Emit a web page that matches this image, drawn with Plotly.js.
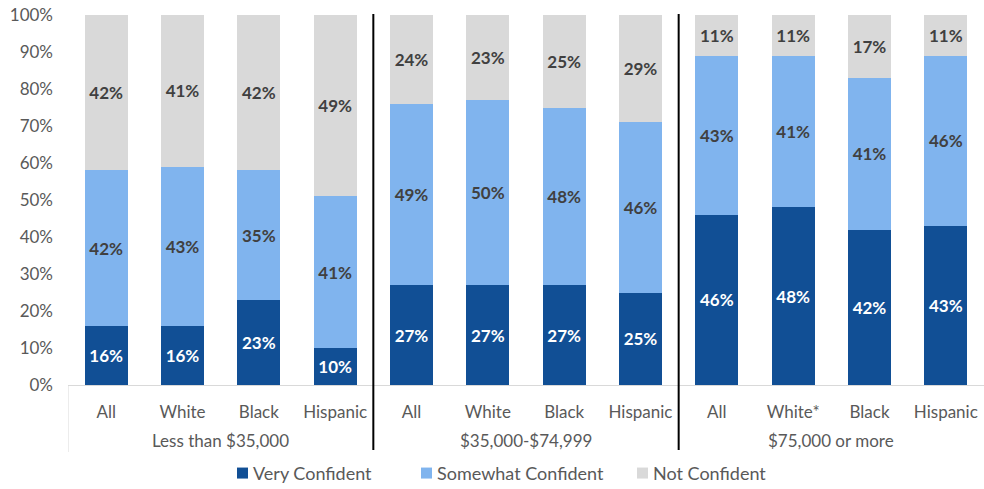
<!DOCTYPE html>
<html><head><meta charset="utf-8">
<script src="https://cdn.plot.ly/plotly-3.0.1.min.js"></script>
<style>html,body{margin:0;padding:0;background:#fff}#c{width:984px;height:489px}</style>
</head><body><div id="c"></div>
<script>
const groups = ["Less than $35,000","Less than $35,000","Less than $35,000","Less than $35,000",
  "$35,000-$74,999","$35,000-$74,999","$35,000-$74,999","$35,000-$74,999",
  "$75,000 or more","$75,000 or more","$75,000 or more","$75,000 or more"];
const categories = ["All","White","Black","Hispanic","All","White","Black","Hispanic","All","White*","Black","Hispanic"];
const veryConfident = [16,16,23,10,27,27,27,25,46,48,42,43];
const somewhatConfident = [42,43,35,41,49,50,48,46,43,41,41,46];
const notConfident = [42,41,42,49,24,23,25,29,11,11,17,11];
const seriesNames = ["Very Confident","Somewhat Confident","Not Confident"];
const yTicks = [0,10,20,30,40,50,60,70,80,90,100];

const FONT = "Lato, 'Open Sans', sans-serif";
const colors = ['#114F95','#80B4EE','#D9D9D9'];
const textColors = ['#ffffff','#404040','#404040'];
const xIdx = categories.map((c,i)=>i);
const series = [veryConfident, somewhatConfident, notConfident];
const data = series.map((vals,k)=>({type:'bar', name:seriesNames[k], x:xIdx, y:vals,
  marker:{color:colors[k]}, text: vals.map(v=>v+'%'), textposition:'inside',
  insidetextanchor:'middle', textangle:0, constraintext:'none',
  textfont:{family:FONT, size:17, color:textColors[k], weight:'bold'},
  hoverinfo:'skip', showlegend:false}));

const groupNames = [...new Set(groups)];
const annotations = [];
const shapes = [];
groupNames.forEach((g,gi)=>{
  const idx = groups.map((v,i)=>v===g?i:-1).filter(i=>i>=0);
  const mid = (idx[0]+idx[idx.length-1])/2;
  annotations.push({xref:'x', yref:'paper', x:mid, y:-0.149, text:g, showarrow:false,
    xanchor:'center', yanchor:'middle', font:{family:FONT, size:17, color:'#595959'}});
  if(gi>0){
    shapes.push({type:'line', xref:'x', yref:'paper', x0:idx[0]-0.5, x1:idx[0]-0.5, y0:-0.176, y1:1.003,
      line:{color:'#000', width:2}});
  }
});
shapes.push({type:'line', xref:'x', yref:'paper', x0:-0.5, x1:-0.5, y0:-0.181, y1:0,
  line:{color:'#D9D9D9', width:1}});

const legX = [237, 421, 637];
const legY = -0.238;
seriesNames.forEach((n,k)=>{
  const px = legX[k];
  shapes.push({type:'rect', xref:'paper', yref:'paper',
    x0:(px-68)/916, x1:(px-68+11)/916, y0:legY-5.5/370, y1:legY+5.5/370,
    fillcolor:colors[k], line:{width:0}});
  annotations.push({xref:'paper', yref:'paper', x:(px-68+14)/916, y:legY, text:n, showarrow:false,
    xanchor:'left', yanchor:'middle', font:{family:FONT, size:18, color:'#595959'}});
});

const layout = {
  width:984, height:489, barmode:'stack', bargap:0.44,
  margin:{l:68, r:0, t:15, b:104},
  paper_bgcolor:'#fff', plot_bgcolor:'#fff',
  font:{family:FONT, color:'#595959', size:17},
  xaxis:{range:[-0.5,11.5], tickvals:xIdx, ticktext:categories, showline:true, linecolor:'#D9D9D9', linewidth:1,
    ticks:'', showgrid:false, zeroline:false, ticklabelstandoff:12,
    tickfont:{family:FONT, size:17, color:'#595959'}},
  yaxis:{range:[0,100], tickvals:yTicks, ticktext:yTicks.map(v=>v+'%'),
    showgrid:false, zeroline:false, showline:false, ticks:'', ticklabelstandoff:14,
    tickfont:{family:FONT, size:17, color:'#595959'}},
  shapes:shapes, annotations:annotations, showlegend:false
};
Plotly.newPlot('c', data, layout, {displayModeBar:false, staticPlot:true});
</script></body></html>
